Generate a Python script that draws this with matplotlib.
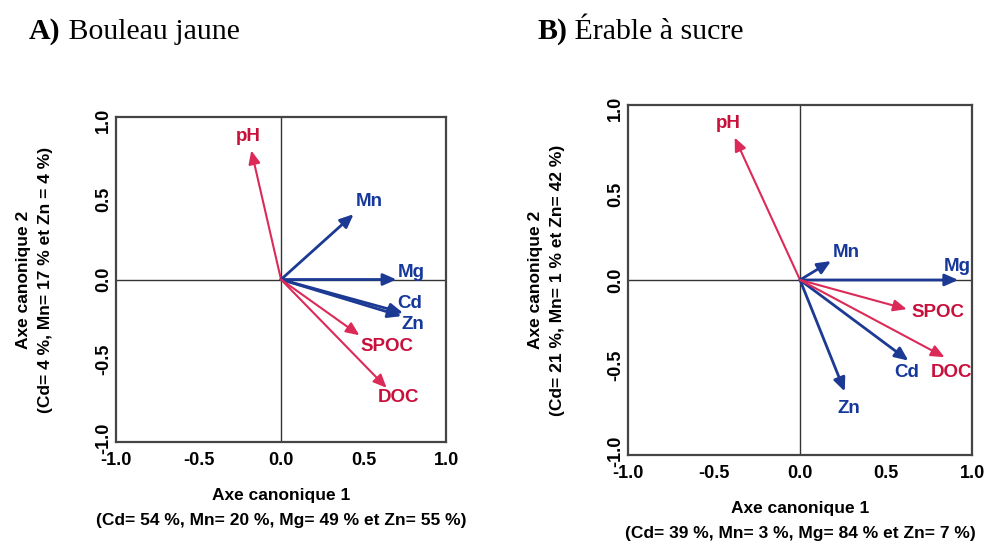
import numpy as np
import matplotlib.pyplot as plt

# variables of the canonical analysis
variables = ['pH', 'Mn', 'Mg', 'Cd', 'Zn', 'SPOC', 'DOC']
groups = ['env', 'metal', 'metal', 'metal', 'metal', 'env', 'env']

# A) Bouleau jaune - arrow tips
axe1_A = [-0.18, 0.44, 0.70, 0.74, 0.73, 0.475, 0.64]
axe2_A = [0.81, 0.41, 0.0, -0.21, -0.23, -0.35, -0.68]

# B) Erable a sucre - arrow tips
axe1_B = [-0.38, 0.18, 0.92, 0.63, 0.26, 0.62, 0.84]
axe2_B = [0.83, 0.11, 0.0, -0.47, -0.65, -0.17, -0.45]

ticks = [-1.0, -0.5, 0.0, 0.5, 1.0]
tick_labels = ['-1.0', '-0.5', '0.0', '0.5', '1.0']

xlab_A = 'Axe canonique 1\n(Cd= 54 %, Mn= 20 %, Mg= 49 % et Zn= 55 %)'
ylab_A = 'Axe canonique 2\n(Cd= 4 %, Mn= 17 % et Zn = 4 %)'
xlab_B = 'Axe canonique 1\n(Cd= 39 %, Mn= 3 %, Mg= 84 % et Zn= 7 %)'
ylab_B = 'Axe canonique 2\n(Cd= 21 %, Mn= 1 % et Zn= 42 %)'

# label positions (data coords), layout only
lab_pos_A = {'pH': (-0.20, 0.90), 'Mn': (0.535, 0.49), 'Mg': (0.79, 0.045),
             'Cd': (0.78, -0.15), 'Zn': (0.80, -0.28), 'SPOC': (0.64, -0.42),
             'DOC': (0.71, -0.74)}
lab_pos_B = {'pH': (-0.42, 0.91), 'Mn': (0.27, 0.16), 'Mg': (0.915, 0.08),
             'Cd': (0.62, -0.54), 'Zn': (0.285, -0.75), 'SPOC': (0.80, -0.19),
             'DOC': (0.88, -0.54)}

line_col = {'env': '#dc2a58', 'metal': '#1c3a94'}
text_col = {'env': '#c8103c', 'metal': '#16389a'}

plt.rcParams['font.family'] = ['Liberation Sans', 'DejaVu Sans']

fig = plt.figure(figsize=(10.05, 5.41), dpi=100)
axA = fig.add_axes([0.1154, 0.183, 0.3284, 0.6007])
axB = fig.add_axes([0.6249, 0.159, 0.3423, 0.6470])


def draw_panel(ax, xs, ys, lab_pos, xlab, ylab):
    ax.set_xlim(-1, 1)
    ax.set_ylim(-1.02, 1.02)
    ax.axhline(0, color='#333333', lw=1.0, zorder=1)
    ax.axvline(0, color='#333333', lw=1.0, zorder=1)
    for name, g, x, y in zip(variables, groups, xs, ys):
        lw = 2.0 if g == 'metal' else 1.5
        ax.annotate('', xy=(x, y), xytext=(0, 0),
                    arrowprops=dict(arrowstyle='-|>,head_length=0.5,head_width=0.22',
                                    color=line_col[g], lw=lw,
                                    mutation_scale=16, shrinkA=0, shrinkB=0),
                    zorder=3)
        lx, ly = lab_pos[name]
        ax.text(lx, ly, name, color=text_col[g], fontsize=13.5, fontweight='bold',
                ha='center', va='center', zorder=4)
    ax.set_xticks(ticks)
    ax.set_xticklabels(tick_labels)
    ax.set_yticks(ticks)
    ax.set_yticklabels(tick_labels, rotation=90, va='center')
    ax.tick_params(length=0, labelsize=13)
    ax.tick_params(axis='x', pad=7)
    ax.tick_params(axis='y', pad=3)
    for lbl in ax.get_xticklabels() + ax.get_yticklabels():
        lbl.set_fontweight('bold')
    for s in ax.spines.values():
        s.set_color('#444444')
        s.set_linewidth(1.6)
    ax.set_xlabel(xlab, fontsize=12.5, fontweight='bold', labelpad=14, linespacing=1.85)
    ax.set_ylabel(ylab, fontsize=12.5, fontweight='bold', labelpad=30, linespacing=1.6)


draw_panel(axA, axe1_A, axe2_A, lab_pos_A, xlab_A, ylab_A)
draw_panel(axB, axe1_B, axe2_B, lab_pos_B, xlab_B, ylab_B)

# panel titles (serif, letter in bold)
serif = ['Liberation Serif', 'DejaVu Serif']
tA = fig.text(29 / 1005, 1 - 39 / 541, 'A)', fontsize=21.5, fontweight='bold', family=serif)
fig.add_artist(plt.Annotation(' Bouleau jaune', xy=(1, 0), xycoords=tA, va='bottom',
                              fontsize=21.5, family=serif))
tB = fig.text(537 / 1005, 1 - 39 / 541, 'B)', fontsize=21.5, fontweight='bold', family=serif)
fig.add_artist(plt.Annotation(' Érable à sucre', xy=(1, 0), xycoords=tB, va='bottom',
                              fontsize=21.5, family=serif))

fig.savefig('out.png', dpi=100, facecolor='white')
